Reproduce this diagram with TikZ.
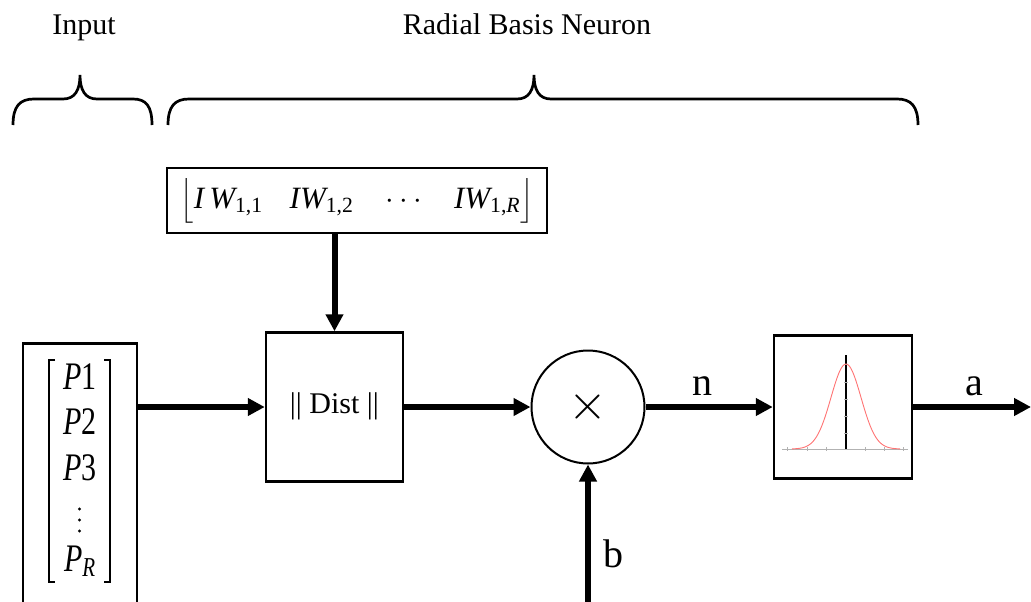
\RequirePackage{fix-cm}
\documentclass[tikz,border=0pt]{standalone}
\usepackage{fontspec}
\setmainfont{Liberation Serif}
\usepackage{amsmath}
\usetikzlibrary{arrows.meta}
\newcommand{\fsz}[1]{\fontsize{#1}{1.2\dimexpr#1pt\relax}\selectfont}

\begin{document}
\begin{tikzpicture}[x=1pt,y=-1pt,
  blk/.style={draw,line width=2.5pt,inner sep=0pt},
  flow/.style={line width=6pt,-{Triangle[length=17pt,width=17pt]}},
  brace/.style={line width=2.7pt},
  lbl/.style={anchor=base,inner sep=0pt,font=\fsz{40}}]

\useasboundingbox (0,0) rectangle (1031,602);
\clip (0,0) rectangle (1031,602);

\node[anchor=base,font=\fsz{30}] (lblin) at (84,35) {Input};
\node[anchor=base,font=\fsz{30}] (lblrbn) at (527,35) {Radial Basis Neuron};

\draw[brace] (13,125) .. controls (13,106) and (20,99) .. (34,99) -- (63,99)
  .. controls (75,99) and (80,90) .. (80,75) .. controls (80,90) and (85,99) .. (97,99)
  -- (133,99) .. controls (146,99) and (152,106) .. (152,125);
\draw[brace] (168,125) .. controls (168,106) and (175,99) .. (189,99) -- (517,99)
  .. controls (529,99) and (534,90) .. (534,75) .. controls (534,90) and (539,99) .. (551,99)
  -- (897,99) .. controls (911,99) and (918,106) .. (918,125);

\node[blk,minimum width=380pt,minimum height=65pt,font=\fsz{31}] (iw) at (357,200.5)
  {$\left\lfloor \vphantom{\big|} \textit{I\,W}_{\text{1,1}} \hspace{27pt} \textit{IW}_{\text{1,2}} \hspace{27pt} \cdots \hspace{27pt} \textit{IW}_{\text{1,\textit{R}}} \right\rfloor$};

\node[blk,anchor=north,minimum width=114pt,minimum height=300pt] (invec) at (80,342) {};
\node[font=\fontsize{30}{35}\selectfont] (pvec) at (80,471)
  {\scalebox{1}[1.3]{$\begin{array}{c} \text{\textit{P}1}\\ \text{\textit{P}2}\\ \text{\textit{P}3}\\ \vphantom{P}\\ \textit{P}_{\textit{R}} \end{array}$}};
% brackets and vertical dots of the input vector
\draw[line width=1.3pt] (55,360) -- (49,360) -- (49,582) -- (55,582);
\draw[line width=1.3pt] (104,360) -- (110,360) -- (110,582) -- (104,582);
\foreach \t in {509,520,531} \fill (79.5,\t) circle (1.7pt);

\node[blk,minimum width=137pt,minimum height=149pt,font=\fsz{30}] (dist) at (334.5,407) {\raisebox{8pt}{|| Dist ||}};
\node[blk,circle,line width=2pt,minimum size=113pt,font=\fsz{50}] (mul) at (588,407) {\raisebox{-9pt}{$\times$}};
\node[blk,minimum width=138pt,minimum height=143pt] (gauss) at (843,407) {};

% bell curve inside the transfer box
\draw[gray!60,line width=1pt] (782,449) -- (908,449);
\foreach \t in {787,807,826,865,884,903} \draw[gray!60,line width=0.8pt] (\t,447) -- (\t,451);
\draw[line width=1.2pt] (846,449) -- (846,355);
\foreach \t in {364,382,399,416,433} \draw[gray!60,line width=0.8pt] (844,\t) -- (848,\t);
\draw[red!55,line width=0.9pt] plot[domain=792:900,samples=81,smooth] (\x,{449-85*exp(-0.5*pow((\x-846)/15,2))});

\coordinate (aout) at (1031,407);
\coordinate (bin) at (588,602);

\draw[flow] (invec.east |- dist.west) -- (dist.west);
\draw[flow] (iw.south -| dist.north) -- (dist.north);
\path[flow] (dist.east) edge (mul.west) (mul.east) edge (gauss.west) (gauss.east) edge (aout) (bin) edge (mul.south);

\node[lbl] (nlbl) at (702,395) {n};
\node[lbl] (albl) at (974,395) {a};
\node[lbl] (blbl) at (613,567) {b};

\end{tikzpicture}
\end{document}
